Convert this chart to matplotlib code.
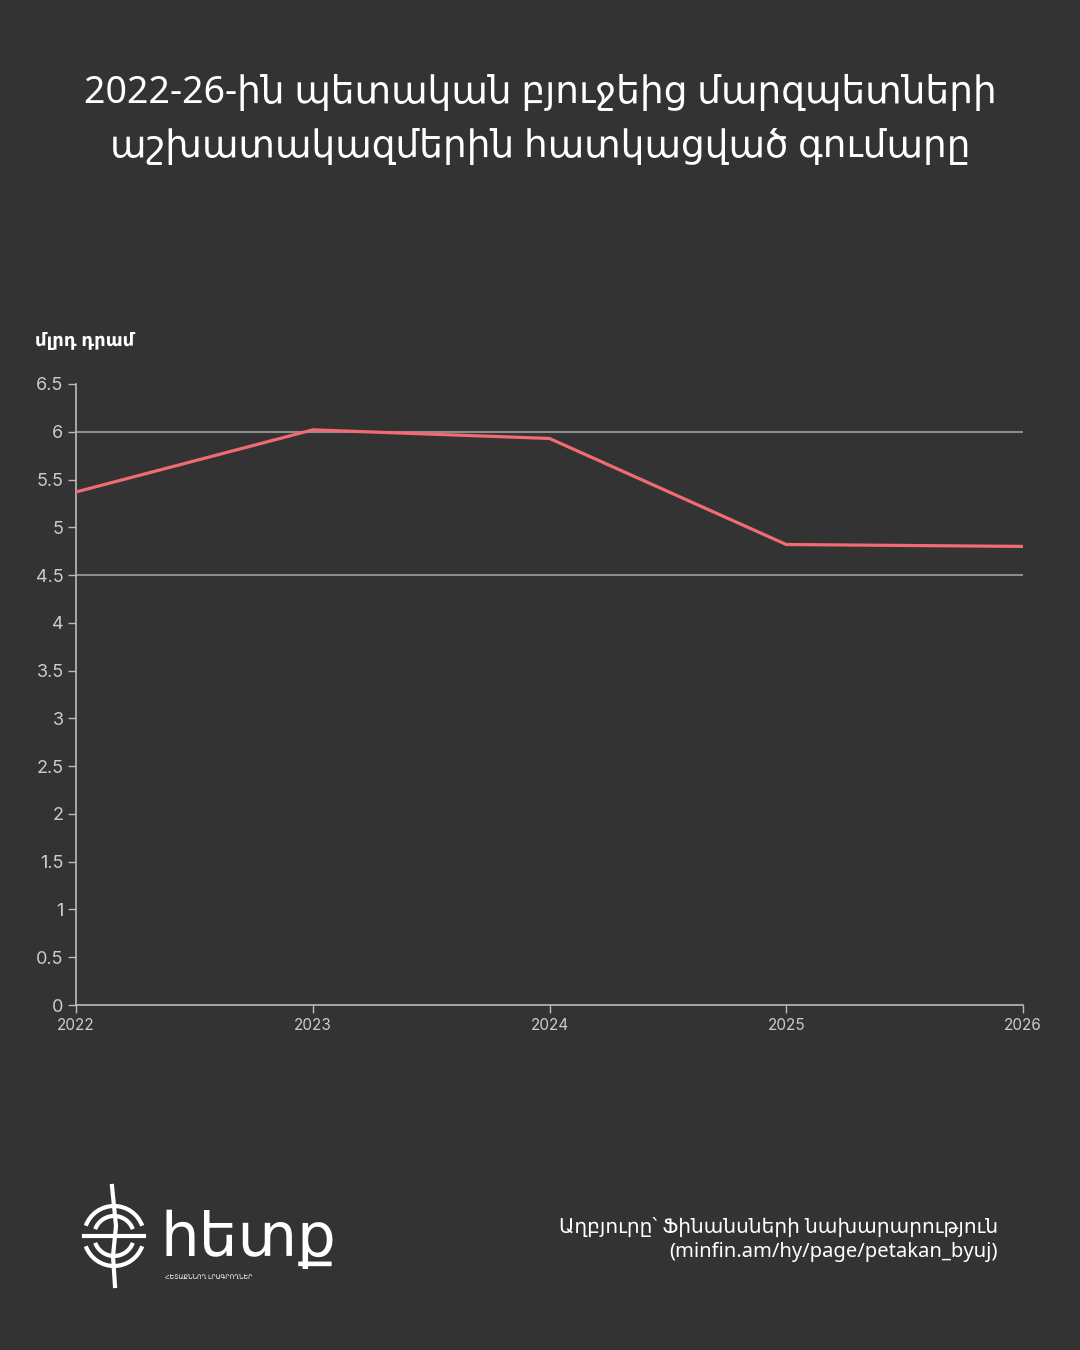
import matplotlib
matplotlib.use("Agg")
import matplotlib.pyplot as plt
from matplotlib.patches import Arc
import numpy as np

years = [2022, 2023, 2024, 2025, 2026]
values = [5.37, 6.02, 5.93, 4.82, 4.80]
ref_lines = [6.0, 4.5]
yticks = [0, 0.5, 1, 1.5, 2, 2.5, 3, 3.5, 4, 4.5, 5, 5.5, 6, 6.5]
ytick_labels = ["0", "0.5", "1", "1.5", "2", "2.5", "3", "3.5", "4", "4.5", "5", "5.5", "6", "6.5"]

title = "2022-26-ին պետական բյուջեից մարզպետների\nաշխատակազմերին հատկացված գումարը"
unit = "մլրդ դրամ"
source = "Աղբյուրը՝ Ֆինանսների նախարարություն\n(minfin.am/hy/page/petakan_byuj)"

BG = "#333333"
LINE = "#f26b73"
ARM = ["Noto Sans", "DejaVu Sans"]
NUM = ["Inter", "DejaVu Sans"]

W, H = 1080, 1350
fig = plt.figure(figsize=(W / 100, H / 100), dpi=100, facecolor=BG)

def fx(px):
    return px / W

def fy(py):
    return 1 - py / H

ax = fig.add_axes([fx(76), fy(1005), fx(1023) - fx(76), fy(384) - fy(1005)])
ax.set_facecolor(BG)
for yv in ref_lines:
    ax.axhline(yv, color="#8c8c8c", lw=1.5, zorder=1)
ax.plot(years, values, color=LINE, lw=2.3, zorder=3, solid_joinstyle="miter")
ax.set_xlim(years[0], years[-1])
ax.set_ylim(0, 6.5)
ax.set_xticks(years)
ax.set_xticklabels([str(y) for y in years], family=NUM, fontsize=11, color="#cccccc")
ax.set_yticks(yticks)
ax.set_yticklabels(ytick_labels, family=NUM, fontsize=13, color="#cccccc")
ax.tick_params(axis="both", colors="#bbbbbb", length=6, width=1)
ax.tick_params(axis="y", pad=3)
ax.tick_params(axis="x", pad=3)
for s in ["top", "right"]:
    ax.spines[s].set_visible(False)
for s in ["left", "bottom"]:
    ax.spines[s].set_color("#bbbbbb")
    ax.spines[s].set_linewidth(1.2)
for lbl in ax.get_xticklabels():
    lbl.set_color("#cccccc")
for lbl in ax.get_yticklabels():
    lbl.set_color("#cccccc")

fig.text(0.5, fy(120), title, ha="center", va="center", color="white",
         fontsize=27, family=ARM, linespacing=1.55)
fig.text(fx(35), fy(341), unit, ha="left", va="center", color="white",
         fontsize=13, family=ARM, fontweight="bold")
fig.text(fx(998), fy(1240), source, ha="right", va="center", color="white",
         fontsize=14.5, family=ARM, linespacing=1.3, multialignment="right")

# logo
lax = fig.add_axes([fx(76), fy(1292), fx(76) - fx(0), fy(1180) - fy(1292)])
lax.set_xlim(-38, 38)
lax.set_ylim(-56, 56)
lax.set_aspect("equal")
lax.axis("off")
for r in [30, 20]:
    lax.add_patch(Arc((0, 0), 2 * r, 2 * r, theta1=20, theta2=160, color="white", lw=3))
    lax.add_patch(Arc((0, 0), 2 * r, 2 * r, theta1=200, theta2=340, color="white", lw=3))
lax.plot([-2, 2, -1, 1], [50, 10, -20, -50], color="white", lw=3)
lax.plot([-30, 30], [0, 0], color="white", lw=3)

fig.text(fx(160), fy(1256), "հետք", ha="left", va="baseline", color="white",
         fontsize=44, family=ARM)
fig.text(fx(165), fy(1274), "ՀԵՏԱՔՆՆՈՂ ԼՐԱԳՐՈՂՆԵՐ", ha="left", va="top", color="white",
         fontsize=4.5, family=ARM)

fig.savefig("out.png", dpi=100, facecolor=BG)
